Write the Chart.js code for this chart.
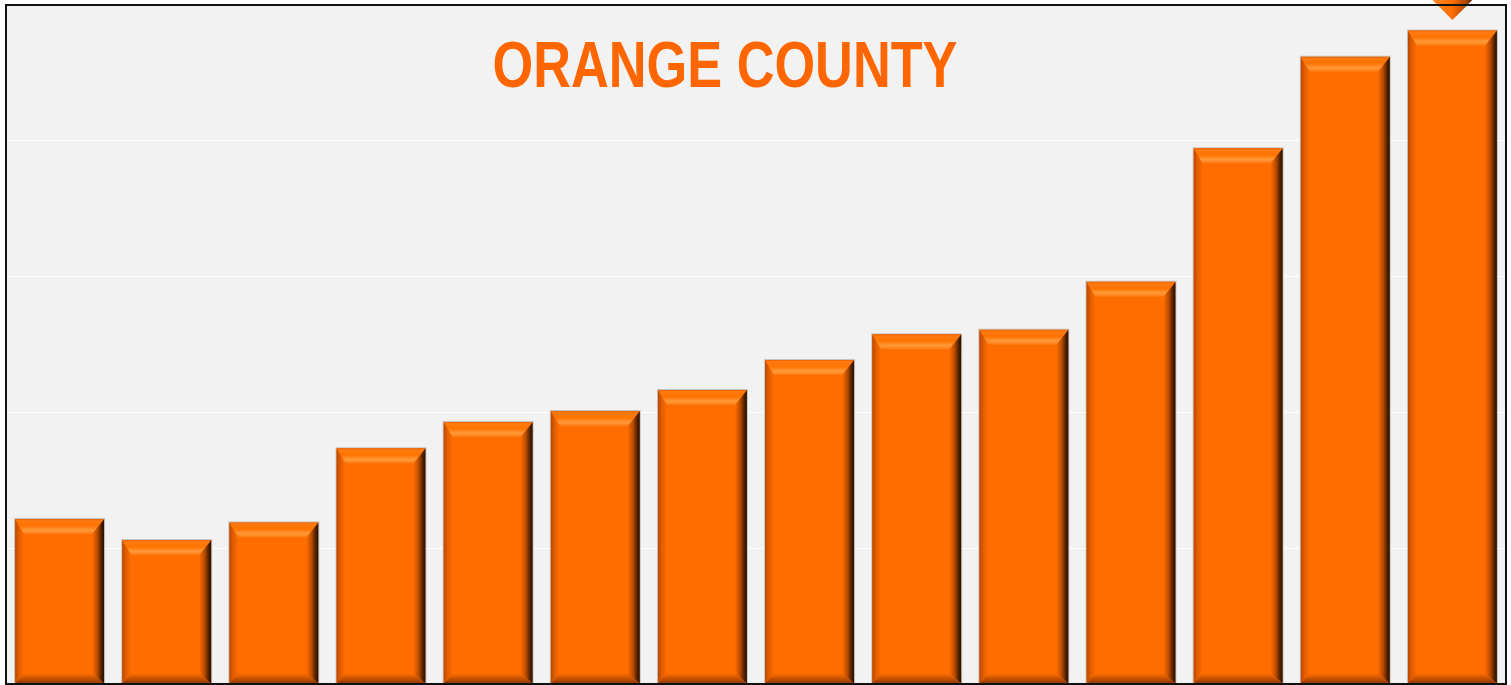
<!DOCTYPE html>
<html>
<head>
<meta charset="utf-8">
<script src="https://cdn.jsdelivr.net/npm/chart.js@4.4.1/dist/chart.umd.min.js"></script>
<style>
  html, body { margin: 0; padding: 0; background: #ffffff; }
  #wrap { width: 1511px; height: 685px; position: relative; }
</style>
</head>
<body>
<div id="wrap"><canvas id="c" width="1511" height="685"></canvas></div>
<script>
// ---- data ----
const chartTitle = 'ORANGE COUNTY';
const categories = ['1', '2', '3', '4', '5', '6', '7', '8', '9', '10', '11', '12', '13', '14'];
const barValues = [12.15, 10.6, 11.9, 17.36, 19.3, 20.1, 21.65, 23.86, 25.75, 26.09, 29.62, 39.45, 46.19, 48.12];
const markerValues = [null, null, null, null, null, null, null, null, null, null, null, null, null, 50.37];
const yTicks = [0, 10, 20, 30, 40, 50];

const ORANGE = '#FF6D00';

const framePlugin = {
  id: 'frame',
  beforeDraw(chart) {
    const { ctx, chartArea: a } = chart;
    ctx.save();
    ctx.fillStyle = '#F2F2F2';
    ctx.fillRect(a.left, a.top, a.right - a.left, a.bottom - a.top);
    ctx.restore();
  },
  beforeDatasetsDraw(chart) {
    const { ctx } = chart;
    ctx.save();
    ctx.font = 'bold 65px "Liberation Sans", Arial, sans-serif';
    const w = ctx.measureText(chartTitle).width;
    const target = 465;
    const sx = target / w;
    ctx.fillStyle = '#FF6600';
    ctx.textBaseline = 'alphabetic';
    ctx.translate(725 - target / 2, 87);
    ctx.scale(sx, 1);
    ctx.fillText(chartTitle, 0, 0);
    ctx.restore();
  },
  afterDraw(chart) {
    const { ctx, chartArea: a } = chart;
    ctx.save();
    ctx.strokeStyle = '#111111';
    ctx.lineWidth = 2;
    ctx.strokeRect(a.left, a.top, a.right - a.left, a.bottom - a.top);
    ctx.restore();
  }
};

function bevelBar(ctx, el) {
  const l = el.x - el.width / 2, r = el.x + el.width / 2;
  const t = el.y, b = el.base;
  const bt = 15, br = 12, bl = 9, bb = 10;
  // outline
  ctx.strokeStyle = 'rgba(150,150,150,0.5)';
  ctx.lineWidth = 1;
  ctx.strokeRect(l - 0.5, t - 0.5, r - l + 1, b - t + 1);
  // left bevel
  let g = ctx.createLinearGradient(l, 0, l + bl, 0);
  g.addColorStop(0, '#B84800');
  g.addColorStop(0.4, '#E05C00');
  g.addColorStop(1, ORANGE);
  ctx.fillStyle = g;
  ctx.beginPath();
  ctx.moveTo(l, t); ctx.lineTo(l + bl, t + bt); ctx.lineTo(l + bl, b - bb); ctx.lineTo(l, b); ctx.closePath();
  ctx.fill();
  // right bevel
  g = ctx.createLinearGradient(r - br, 0, r, 0);
  g.addColorStop(0, ORANGE);
  g.addColorStop(0.45, '#B84A00');
  g.addColorStop(0.8, '#4A2000');
  g.addColorStop(1, '#2A1000');
  ctx.fillStyle = g;
  ctx.beginPath();
  ctx.moveTo(r, t); ctx.lineTo(r, b); ctx.lineTo(r - br, b - bb); ctx.lineTo(r - br, t + bt); ctx.closePath();
  ctx.fill();
  // bottom bevel
  g = ctx.createLinearGradient(0, b - bb, 0, b);
  g.addColorStop(0, ORANGE);
  g.addColorStop(0.5, '#C85200');
  g.addColorStop(1, '#8A3800');
  ctx.fillStyle = g;
  ctx.beginPath();
  ctx.moveTo(l, b); ctx.lineTo(r, b); ctx.lineTo(r - br, b - bb); ctx.lineTo(l + bl, b - bb); ctx.closePath();
  ctx.fill();
  // top bevel
  g = ctx.createLinearGradient(0, t, 0, t + bt);
  g.addColorStop(0, '#E86000');
  g.addColorStop(0.12, '#FF7A10');
  g.addColorStop(0.45, '#FF7300');
  g.addColorStop(0.75, '#FF9A3A');
  g.addColorStop(1, '#FF7A10');
  ctx.fillStyle = g;
  ctx.beginPath();
  ctx.moveTo(l, t); ctx.lineTo(r, t); ctx.lineTo(r - br, t + bt); ctx.lineTo(l + bl, t + bt); ctx.closePath();
  ctx.fill();
}

const bevelPlugin = {
  id: 'bevel',
  afterDatasetDraw(chart, args) {
    if (args.index !== 0) return;
    const ctx = chart.ctx;
    ctx.save();
    args.meta.data.forEach(el => bevelBar(ctx, el));
    ctx.restore();
  }
};

const markerGradientPlugin = {
  id: 'markerFill',
  beforeDatasetDraw(chart, args) {
    if (args.index !== 1) return;
    const el = args.meta.data[args.meta.data.length - 1];
    if (!el) return;
    const g = chart.ctx.createLinearGradient(el.x - 20, 0, el.x + 20, 0);
    g.addColorStop(0, '#FF8A2A');
    g.addColorStop(0.5, '#FF6D00');
    g.addColorStop(0.8, '#B84A00');
    g.addColorStop(1, '#5A2800');
    el.options.backgroundColor = g;
  }
};

new Chart(document.getElementById('c'), {
  data: {
    labels: categories,
    datasets: [
      {
        type: 'bar',
        data: barValues,
        backgroundColor: ORANGE,
        borderWidth: 0,
        barPercentage: 0.83,
        categoryPercentage: 1.0,
        order: 2
      },
      {
        type: 'line',
        data: markerValues,
        showLine: false,
        pointStyle: 'rectRot',
        pointRadius: 20,
        pointBackgroundColor: ORANGE,
        pointBorderColor: 'rgba(0,0,0,0)',
        pointBorderWidth: 0,
        clip: false,
        order: 1
      }
    ]
  },
  options: {
    responsive: false,
    animation: false,
    layout: { autoPadding: false, padding: { left: 6, top: 5, right: 5, bottom: 1 } },
    plugins: { legend: { display: false }, tooltip: { enabled: false }, title: { display: false } },
    scales: {
      x: {
        offset: true,
        grid: { display: false, drawTicks: false },
        border: { display: false },
        ticks: { display: false }
      },
      y: {
        min: yTicks[0],
        max: yTicks[yTicks.length - 1],
        afterBuildTicks(scale) { scale.ticks = yTicks.map(v => ({ value: v })); },
        grid: { color: '#FFFFFF', lineWidth: 1, drawTicks: false },
        border: { display: false },
        ticks: { display: false }
      }
    }
  },
  plugins: [framePlugin, bevelPlugin, markerGradientPlugin]
});
</script>
</body>
</html>
